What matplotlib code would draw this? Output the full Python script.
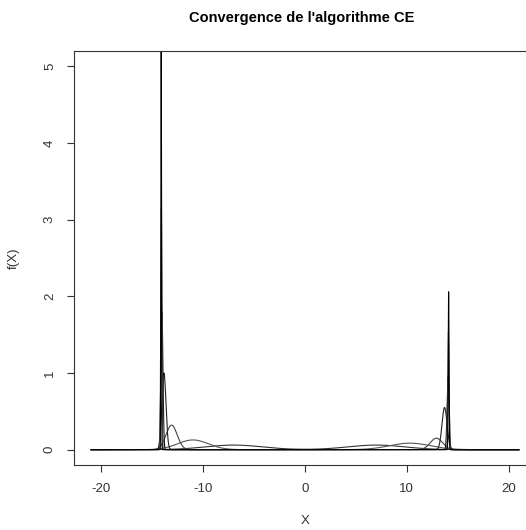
"""Convergence de l'algorithme CE : densités successives (mélange de deux gaussiennes)."""
import matplotlib
matplotlib.use("Agg")
import matplotlib.pyplot as plt
import numpy as np

plt.rcParams["font.family"] = ["Liberation Sans", "DejaVu Sans"]
plt.rcParams["axes.unicode_minus"] = False

# ---------------------------------------------------------------------------
# Data: one curve per iteration, each = left bump + right bump
# (centre, spread, peak height)
# ---------------------------------------------------------------------------
left_mu = [-7.0, -11.0, -13.1, -13.85, -14.05, -14.1, -14.12]
left_sd = [2.8, 1.5, 0.55, 0.2, 0.1, 0.06, 0.03]
left_peak = [0.06, 0.127, 0.32, 1.0, 1.8, 3.15, 5.6]

right_mu = [7.0, 10.3, 12.9, 13.7, 14.05, 14.08, 14.1]
right_sd = [2.8, 2.0, 0.6, 0.25, 0.1, 0.06, 0.04]
right_peak = [0.06, 0.085, 0.15, 0.55, 0.95, 1.53, 2.06]

line_colors = ["#333333", "#555555", "#444444", "#222222", "#111111", "#666666", "#000000"]

X_MIN, X_MAX = -21, 21


def bump(x, mu, sd, peak):
    return peak * np.exp(-0.5 * ((x - mu) / sd) ** 2)


def main() -> None:
    fig = plt.figure(figsize=(5.26, 5.30), dpi=100)
    # R plot region; right border lies just outside the picture
    ax = fig.add_axes([74 / 526, 65 / 530, 462 / 526, 414 / 530])

    x = np.linspace(X_MIN, X_MAX, 8001)
    for i in range(len(left_mu)):
        y = bump(x, left_mu[i], left_sd[i], left_peak[i]) + bump(
            x, right_mu[i], right_sd[i], right_peak[i]
        )
        ax.plot(x, y, color=line_colors[i], linewidth=0.8)

    ax.set_xlim(-22.68, 22.68)
    ax.set_ylim(-0.2, 5.2)
    ax.set_xticks([-20, -10, 0, 10, 20])
    ax.set_yticks([0, 1, 2, 3, 4, 5])
    ax.tick_params(direction="out", length=5, width=0.8, colors="#333333",
                   labelsize=9.5, pad=8)
    for lab in ax.get_yticklabels():
        lab.set_rotation(90)
        lab.set_va("center")
    for sp in ax.spines.values():
        sp.set_color("#333333")
        sp.set_linewidth(0.8)

    fig.text(302 / 526, 1 - 18 / 530, "Convergence de l'algorithme CE",
             ha="center", va="center", fontsize=10.5, fontweight="bold")
    fig.text(305 / 526, 1 - 521 / 530, "X", ha="center", va="center",
             fontsize=9.5, color="#333333")
    fig.text(14 / 526, 1 - 258 / 530, "f(X)", ha="center", va="center",
             rotation=90, fontsize=9.5, color="#333333")

    fig.savefig("out.png", dpi=100)
    plt.close(fig)


if __name__ == "__main__":
    main()
